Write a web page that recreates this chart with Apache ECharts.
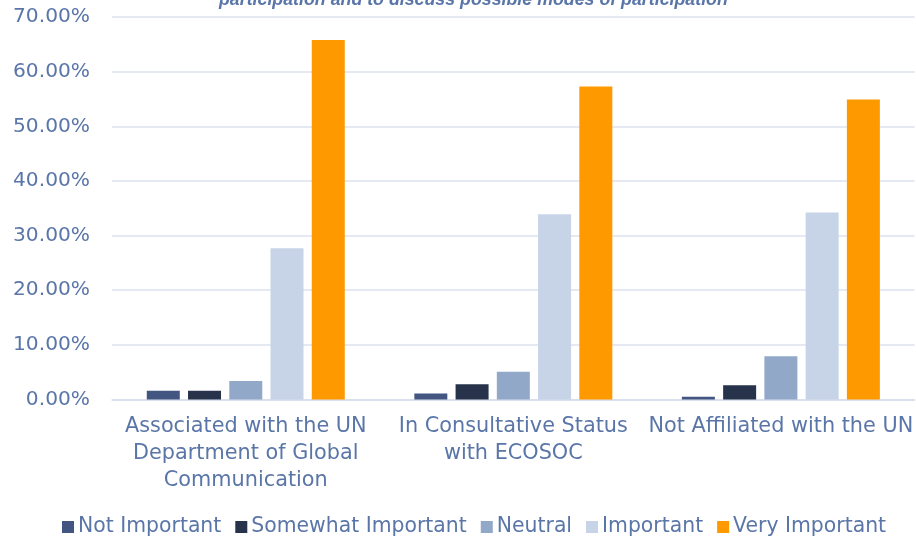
<!DOCTYPE html>
<html>
<head>
<meta charset="utf-8">
<script src="https://cdn.jsdelivr.net/npm/echarts@6/dist/echarts.min.js"></script>
<style>html,body{margin:0;padding:0;background:#fff}#c{width:916px;height:542px}</style>
</head>
<body>
<div id="c"></div>
<script>
const categories = [
  "Associated with the UN\nDepartment of Global\nCommunication",
  "In Consultative Status\nwith ECOSOC",
  "Not Affiliated with the UN"
];
const seriesNames = ["Not Important", "Somewhat Important", "Neutral", "Important", "Very Important"];
const notImportant = [1.6, 1.1, 0.5];
const somewhatImportant = [1.6, 2.8, 2.6];
const neutral = [3.4, 5.1, 7.9];
const important = [27.7, 33.9, 34.2];
const veryImportant = [65.8, 57.3, 54.9];
const titleText = "participation and to discuss possible modes of participation";

const colors = ["#435681", "#27334A", "#91A8C8", "#C7D4E7", "#FF9900"];
const data = [notImportant, somewhatImportant, neutral, important, veryImportant];
const textColor = "#5A76A8";
const font = "Liberation Sans, Arial, sans-serif";
const wideFont = "DejaVu Sans, Liberation Sans, sans-serif";

const chart = echarts.init(document.getElementById('c'), null, {renderer: 'canvas'});
chart.setOption({
  animation: false,
  backgroundColor: '#ffffff',
  color: colors,
  title: {
    text: titleText,
    left: 214, top: -14,
    textStyle: {color: textColor, fontSize: 17.8, fontStyle: 'italic', fontWeight: 'bold', fontFamily: font}
  },
  grid: {left: 112, right: 0, top: 17, bottom: 142.5, containLabel: false},
  legend: {
    bottom: 0, left: 57,
    itemWidth: 12, itemHeight: 12, itemGap: 14,
    icon: 'rect',
    textStyle: {color: textColor, fontSize: 20.4, fontFamily: wideFont, padding: [0, 0, 0, -1]},
    data: seriesNames
  },
  xAxis: {
    type: 'category',
    data: categories,
    axisTick: {show: false},
    axisLine: {lineStyle: {color: '#D5DCEA', width: 1.5}},
    axisLabel: {color: textColor, fontSize: 20.8, fontFamily: wideFont, lineHeight: 27, margin: 14, interval: 0}
  },
  yAxis: {
    type: 'value', min: 0, max: 70, interval: 10,
    axisLine: {show: false}, axisTick: {show: false},
    splitLine: {lineStyle: {color: '#DDE2EE', width: 1.5}},
    axisLabel: {color: textColor, fontSize: 20.2, fontFamily: wideFont, margin: 22,
      formatter: v => v.toFixed(2) + '%'}
  },
  series: seriesNames.map((n, i) => ({
    name: n, type: 'bar', data: data[i],
    barGap: '25%', barCategoryGap: '26%',
    itemStyle: {color: colors[i]}
  }))
});
</script>
</body>
</html>
